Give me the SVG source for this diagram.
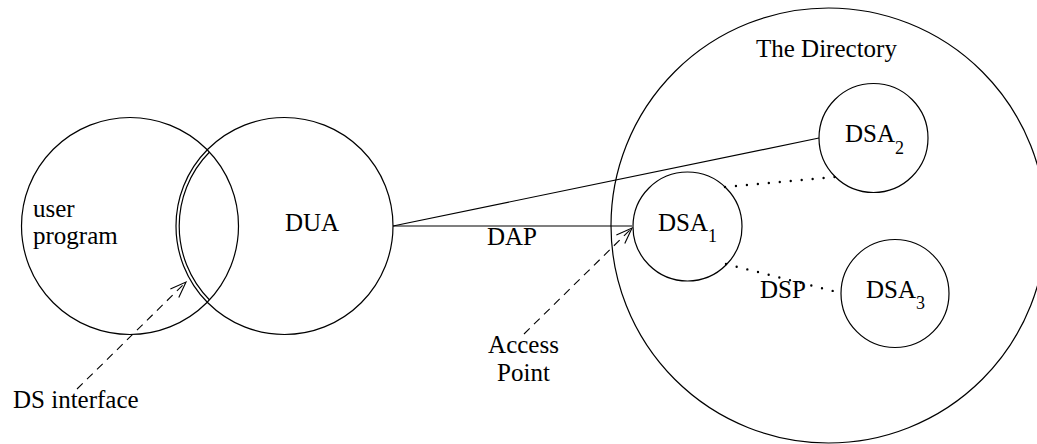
<svg xmlns="http://www.w3.org/2000/svg" width="1037" height="444" viewBox="0 0 1037 444">
<style>
.c{fill:none;stroke:#000;stroke-width:1.2}
.t{font-family:"Liberation Serif","Times New Roman",serif;font-size:25px;fill:#000}
.s{font-size:18px}
.ln{fill:none;stroke:#000;stroke-width:1.2}
.dash{fill:none;stroke:#000;stroke-width:1.1;stroke-dasharray:8 6}
.dot{fill:none;stroke:#000;stroke-width:2.4;stroke-linecap:round;stroke-dasharray:0 11}
</style>
<defs>
<marker id="ah" viewBox="0 0 20 20" refX="18" refY="10" markerWidth="20" markerHeight="20" markerUnits="userSpaceOnUse" orient="auto">
<path d="M2,4 L18,10 L2,16" fill="none" stroke="#000" stroke-width="1.1"/>
</marker>
<clipPath id="userClip"><circle cx="130" cy="226" r="108.5"/></clipPath>
</defs>
<g id="connectors">
<line class="ln" x1="393" y1="226" x2="632" y2="226"/>
<line class="ln" x1="393" y1="226" x2="819" y2="138"/>
<line class="dash" x1="77" y1="389" x2="186" y2="282" marker-end="url(#ah)"/>
<line class="dash" x1="524" y1="334" x2="632" y2="228" marker-end="url(#ah)"/>
<line class="dot" x1="725" y1="187" x2="835" y2="177"/>
<line class="dot" x1="726" y1="264" x2="841" y2="293"/>
</g>
<g id="user-program">
<circle class="c" cx="130" cy="226" r="108.5"/>
<text class="t" x="33" y="217">user</text>
<text class="t" x="33" y="244">program</text>
</g>
<g id="dua">
<circle class="c" cx="284.5" cy="226" r="108.5"/>
<circle class="c" cx="284.5" cy="226" r="105.3" clip-path="url(#userClip)"/>
<text class="t" x="285" y="231">DUA</text>
</g>
<g id="directory">
<circle class="c" cx="828.5" cy="225.5" r="217.5"/>
<text class="t" x="756" y="57">The Directory</text>
</g>
<g id="dsa1">
<circle class="c" cx="687.5" cy="226.5" r="54.5"/>
<text class="t" x="658" y="231">DSA<tspan class="s" dy="11">1</tspan></text>
</g>
<g id="dsa2">
<circle class="c" cx="873.5" cy="138" r="54.5"/>
<text class="t" x="845" y="142">DSA<tspan class="s" dy="12">2</tspan></text>
</g>
<g id="dsa3">
<circle class="c" cx="895" cy="293.5" r="54"/>
<text class="t" x="866" y="298">DSA<tspan class="s" dy="11">3</tspan></text>
</g>
<g id="labels">
<text class="t" x="487" y="245">DAP</text>
<text class="t" x="760" y="298">DSP</text>
<text class="t" x="523.5" y="353" text-anchor="middle">Access</text>
<text class="t" x="523.5" y="381" text-anchor="middle">Point</text>
<text class="t" x="13" y="408">DS interface</text>
</g>
</svg>
